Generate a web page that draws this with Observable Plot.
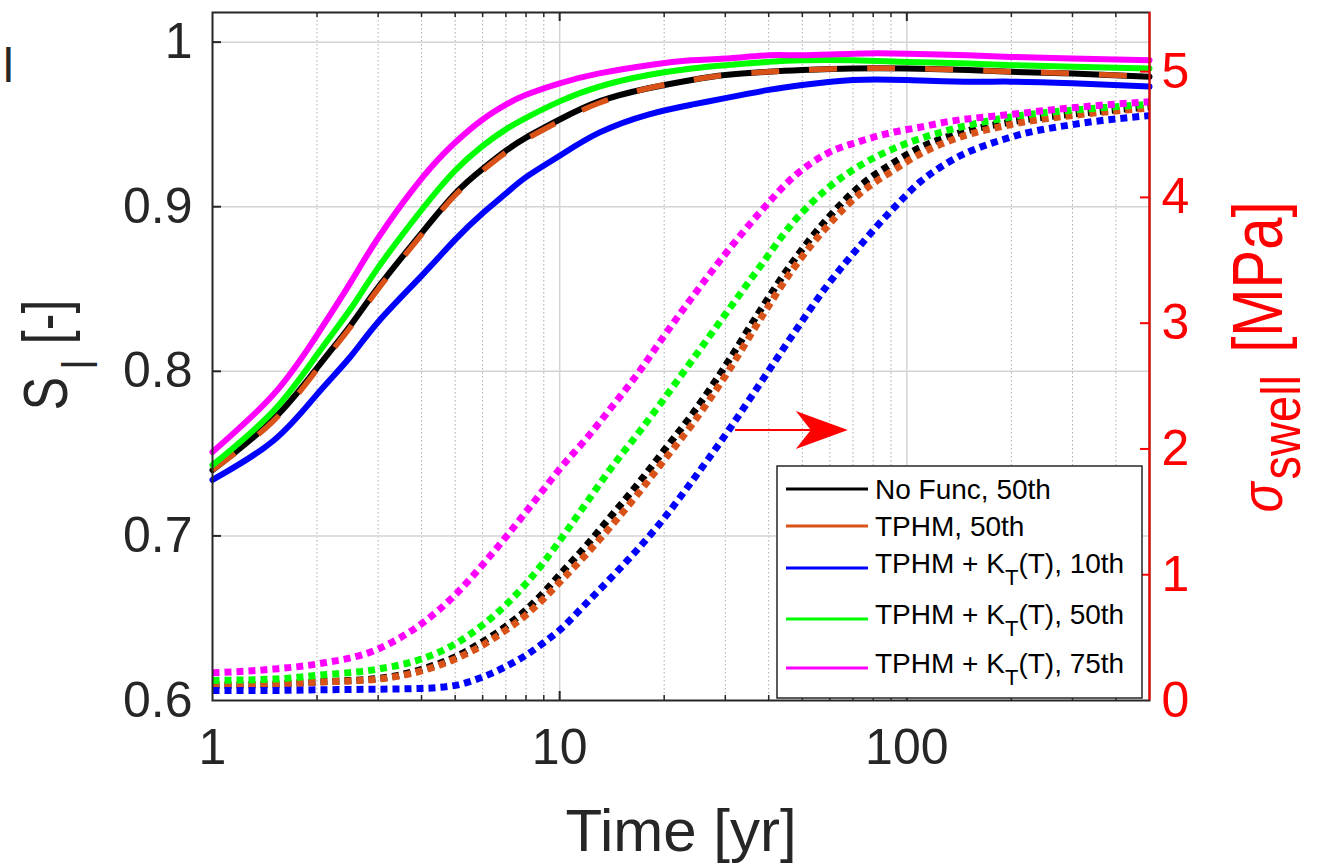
<!DOCTYPE html>
<html>
<head>
<meta charset="utf-8">
<script src="https://cdn.jsdelivr.net/npm/d3@7"></script>
<script src="https://cdn.jsdelivr.net/npm/@observablehq/plot@0.6"></script>
<style>
  body { margin: 0; background: #fff; }
  svg { display: block; }
</style>
</head>
<body>
<div id="chart"></div>
<script>
// ---------- DATA ----------
// Saturation S_l [-] (left axis, solid lines)
const timeSat = [1, 1.5, 2, 2.5, 3, 4, 5, 6, 7, 8, 10, 13, 18, 24, 30, 40, 50, 70, 100, 150, 200, 300, 500];
const satNoFunc50 = [0.740, 0.771, 0.802, 0.828, 0.851, 0.884, 0.908, 0.923, 0.934, 0.942, 0.953, 0.964, 0.972, 0.977, 0.980, 0.982, 0.983, 0.984, 0.984, 0.983, 0.982, 0.981, 0.979];
const satTPHM50   = [0.740, 0.770, 0.801, 0.827, 0.850, 0.883, 0.907, 0.922, 0.933, 0.941, 0.952, 0.963, 0.972, 0.977, 0.980, 0.982, 0.983, 0.984, 0.984, 0.983, 0.982, 0.981, 0.979];
const satKT10     = [0.734, 0.758, 0.786, 0.809, 0.830, 0.858, 0.880, 0.896, 0.908, 0.918, 0.931, 0.945, 0.956, 0.962, 0.966, 0.971, 0.974, 0.977, 0.977, 0.976, 0.976, 0.975, 0.973];
const satKT50     = [0.743, 0.776, 0.810, 0.838, 0.863, 0.898, 0.922, 0.937, 0.947, 0.954, 0.964, 0.973, 0.980, 0.984, 0.986, 0.988, 0.989, 0.989, 0.988, 0.987, 0.986, 0.985, 0.984];
const satKT75     = [0.751, 0.786, 0.822, 0.854, 0.881, 0.917, 0.939, 0.953, 0.962, 0.968, 0.975, 0.981, 0.986, 0.989, 0.990, 0.992, 0.992, 0.993, 0.993, 0.992, 0.991, 0.990, 0.989];

// Swelling pressure sigma_swell [MPa] (right axis, dotted lines)
const timeSwell = [1, 1.5, 2, 3, 4, 5, 6, 7, 8, 9, 10, 12, 14, 17, 20, 24, 30, 38, 47, 59, 74, 92, 110, 130, 200, 320, 500];
const swellNoFunc50 = [0.12, 0.13, 0.147, 0.175, 0.248, 0.347, 0.467, 0.59, 0.72, 0.86, 1.00, 1.24, 1.46, 1.74, 1.99, 2.27, 2.66, 3.11, 3.49, 3.83, 4.10, 4.28, 4.40, 4.48, 4.60, 4.67, 4.72];
const swellTPHM50   = [0.12, 0.13, 0.145, 0.17, 0.235, 0.33, 0.44, 0.56, 0.68, 0.81, 0.94, 1.17, 1.38, 1.66, 1.91, 2.19, 2.58, 3.04, 3.43, 3.77, 4.04, 4.22, 4.35, 4.44, 4.58, 4.66, 4.71];
const swellKT10     = [0.08, 0.08, 0.085, 0.09, 0.096, 0.12, 0.187, 0.27, 0.36, 0.46, 0.56, 0.78, 0.97, 1.22, 1.45, 1.74, 2.11, 2.53, 2.91, 3.30, 3.63, 3.92, 4.13, 4.27, 4.48, 4.59, 4.65];
const swellKT50     = [0.16, 0.17, 0.20, 0.25, 0.33, 0.45, 0.60, 0.76, 0.93, 1.10, 1.27, 1.58, 1.84, 2.14, 2.40, 2.70, 3.07, 3.46, 3.80, 4.07, 4.26, 4.39, 4.47, 4.53, 4.64, 4.70, 4.74];
const swellKT75     = [0.22, 0.25, 0.29, 0.41, 0.61, 0.84, 1.08, 1.30, 1.50, 1.68, 1.84, 2.09, 2.32, 2.62, 2.90, 3.20, 3.55, 3.89, 4.16, 4.35, 4.45, 4.52, 4.56, 4.60, 4.66, 4.72, 4.76];

// Series names / colours (legend order)
const seriesNames  = ["No Func, 50th", "TPHM, 50th", "TPHM + K_T(T), 10th", "TPHM + K_T(T), 50th", "TPHM + K_T(T), 75th"];
const seriesColors = ["#000000", "#D95319", "#0000FF", "#00FF00", "#FF00FF"];
const satSeries   = [satNoFunc50, satTPHM50, satKT10, satKT50, satKT75];
const swellSeries = [swellNoFunc50, swellTPHM50, swellKT10, swellKT50, swellKT75];

// Axis ticks
const timeTicks = [1, 10, 100, 500];
const timeMinor = [2, 3, 4, 5, 6, 7, 8, 9, 20, 30, 40, 50, 60, 70, 80, 90, 200, 300, 400];
const timeMajorGrid = [10, 100];
const satTicks = [0.6, 0.7, 0.8, 0.9, 1.0];
const swellTicks = [0, 1, 2, 3, 4, 5];

// Annotation arrow (points towards the right-hand axis), in data units
const arrowNote = [{tStart: 32, tEnd: 67.6, sigma: 2.15}];

// ---------- LAYOUT ----------
const W = 1319, H = 868;
const mL = 212, mR = 170, mT = 12, mB = 168;
const plotW = W - mL - mR, plotH = H - mT - mB;
const FONT = "'Liberation Sans', Arial, Helvetica, sans-serif";
const INK = "#262626";
const leftDomain = [0.6, 1.018];
const rightDomain = [0, 5.47];
const toLeft = s => leftDomain[0] + (s - rightDomain[0]) / (rightDomain[1] - rightDomain[0]) * (leftDomain[1] - leftDomain[0]);
const fromLeft = v => rightDomain[0] + (v - leftDomain[0]) / (leftDomain[1] - leftDomain[0]) * (rightDomain[1] - rightDomain[0]);

const satRows = seriesNames.map((name, i) => timeSat.map((t, j) => ({t, v: satSeries[i][j], name})));
const swellRows = seriesNames.map((name, i) => timeSwell.map((t, j) => ({t, v: toLeft(swellSeries[i][j]), name})));

const arrowHead = {
  draw(ctx) {
    ctx.moveTo(0, 0);
    ctx.lineTo(-52, -19);
    ctx.lineTo(-37, 0);
    ctx.lineTo(-52, 19);
    ctx.closePath();
  }
};

const lineMarks = [];
// solid lines (saturation)
seriesNames.forEach((name, i) => {
  if (i === 1) {
    lineMarks.push(Plot.line(satRows[i], {x: "t", y: "v", stroke: seriesColors[i], strokeWidth: 5.5, strokeDasharray: "28,30", strokeLinecap: "butt", curve: "natural"}));
  } else {
    lineMarks.push(Plot.line(satRows[i], {x: "t", y: "v", stroke: seriesColors[i], strokeWidth: 6, curve: "natural"}));
  }
});
// dotted lines (swelling pressure)
seriesNames.forEach((name, i) => {
  lineMarks.push(Plot.line(swellRows[i], {x: "t", y: "v", stroke: seriesColors[i], strokeWidth: 7, strokeDasharray: "7,5", strokeLinecap: "butt", strokeLinejoin: "miter", curve: "monotone-x"}));
});

const plot = Plot.plot({
  width: W, height: H,
  marginLeft: mL, marginRight: mR, marginTop: mT, marginBottom: mB,
  style: {fontFamily: FONT, fontSize: "50px", background: "#fff", color: INK, overflow: "visible"},
  x: {type: "log", domain: [1, 500]},
  y: {domain: leftDomain},
  marks: [
    Plot.ruleX(timeMinor, {stroke: "#ababab", strokeWidth: 1, strokeDasharray: "1.5,2.5"}),
    Plot.ruleX(timeMajorGrid, {stroke: "#d4d4d4", strokeWidth: 1.5}),
    Plot.ruleY(satTicks.slice(1), {stroke: "#d4d4d4", strokeWidth: 1.5}),
    ...lineMarks,
    Plot.link(arrowNote, {x1: "tStart", x2: d => d.tEnd * 0.93, y1: d => toLeft(d.sigma), y2: d => toLeft(d.sigma), stroke: "#ff0000", strokeWidth: 2}),
    Plot.dot(arrowNote, {x: "tEnd", y: d => toLeft(d.sigma), symbol: arrowHead, fill: "#ff0000", stroke: "none", r: 1}),
    Plot.frame({stroke: INK, strokeWidth: 2}),
    Plot.ruleX([500], {stroke: "#ff0000", strokeWidth: 2}),
    // inward tick marks
    Plot.tickY(satTicks.slice(1), {insetRight: plotW - 9, stroke: INK, strokeWidth: 2}),
    Plot.tickY(swellTicks.slice(1).map(toLeft), {insetLeft: plotW - 9, stroke: "#ff0000", strokeWidth: 2}),
    Plot.tickX(timeMajorGrid, {insetTop: plotH - 9, stroke: INK, strokeWidth: 2}),
    Plot.tickX(timeMinor, {insetTop: plotH - 5, stroke: INK, strokeWidth: 1.5}),
    Plot.tickX(timeMajorGrid, {insetBottom: plotH - 9, stroke: INK, strokeWidth: 2}),
    Plot.tickX(timeMinor, {insetBottom: plotH - 5, stroke: INK, strokeWidth: 1.5}),
    // axes
    Plot.axisX({ticks: timeTicks, tickFormat: d => String(d), tickSize: 0, tickPadding: 28, fontSize: 50, fill: INK, label: null}),
    Plot.axisY({anchor: "left", ticks: satTicks, tickFormat: d => d === 1 ? "1" : d.toFixed(1), tickSize: 0, tickPadding: 20, fontSize: 50, fill: INK, label: null}),
    Plot.axisY({anchor: "right", ticks: swellTicks.map(toLeft), tickFormat: d => String(Math.round(fromLeft(d))), tickSize: 0, tickPadding: 12, fontSize: 50, fill: "#ff0000", label: null})
  ]
});

document.getElementById("chart").appendChild(plot);

// ---------- TEXT LABELS & LEGEND ----------
const svg = d3.select(plot);

// x label
svg.append("text").attr("x", 681).attr("y", 851).attr("text-anchor", "middle")
  .attr("font-family", FONT).attr("font-size", 60).attr("fill", INK).text("Time [yr]");

// left y label  S_l [-]
const yl = svg.append("text").attr("transform", "translate(67,355) rotate(-90) scale(1,1.26)")
  .attr("text-anchor", "middle").attr("font-family", FONT).attr("font-size", 50).attr("fill", INK);
yl.append("tspan").text("S");
yl.append("tspan").attr("font-size", 40).attr("dy", 24).attr("dx", 8).text("l");
yl.append("tspan").attr("dy", -24).attr("dx", 2).text(" [-]");

// right y label  sigma_swell [MPa]
const yr = svg.append("text").attr("transform", "translate(1282,357) rotate(-90) scale(1,1.2)")
  .attr("text-anchor", "middle").attr("font-family", FONT).attr("font-size", 58).attr("fill", "#ff0000");
yr.append("tspan").attr("font-style", "italic").attr("font-size", 50).text("σ");
yr.append("tspan").attr("font-size", 47).attr("dy", 15).attr("dx", 3).text("swell");
yr.append("tspan").attr("dy", -15).attr("dx", 6).text(" [MPa]");

// stray panel mark at top-left
svg.append("text").attr("x", 3).attr("y", 82).attr("text-anchor", "start").attr("font-family", FONT).attr("font-size", 48).attr("fill", INK).text("l");

// legend
const lg = svg.append("g").attr("font-family", FONT).attr("text-anchor", "start");
lg.append("rect").attr("x", 777).attr("y", 466).attr("width", 365).attr("height", 232)
  .attr("fill", "#fff").attr("stroke", INK).attr("stroke-width", 1.5);
const legendY = [489, 526, 568, 619, 668];
seriesNames.forEach((name, i) => {
  const y = legendY[i];
  lg.append("line").attr("x1", 786).attr("x2", 868).attr("y1", y).attr("y2", y)
    .attr("stroke", seriesColors[i]).attr("stroke-width", 3);
  const hasSub = name.includes("_");
  const t = lg.append("text").attr("x", 875).attr("y", y + (hasSub ? 5 : 10))
    .attr("text-anchor", "start").attr("font-size", 28).attr("fill", "#000");
  if (hasSub) {
    const [pre, rest] = name.split("_");
    t.append("tspan").text(pre);
    t.append("tspan").attr("font-size", 22).attr("dy", 12).text(rest.charAt(0));
    t.append("tspan").attr("dy", -12).text(rest.slice(1));
  } else {
    t.text(name);
  }
});
</script>
</body>
</html>
